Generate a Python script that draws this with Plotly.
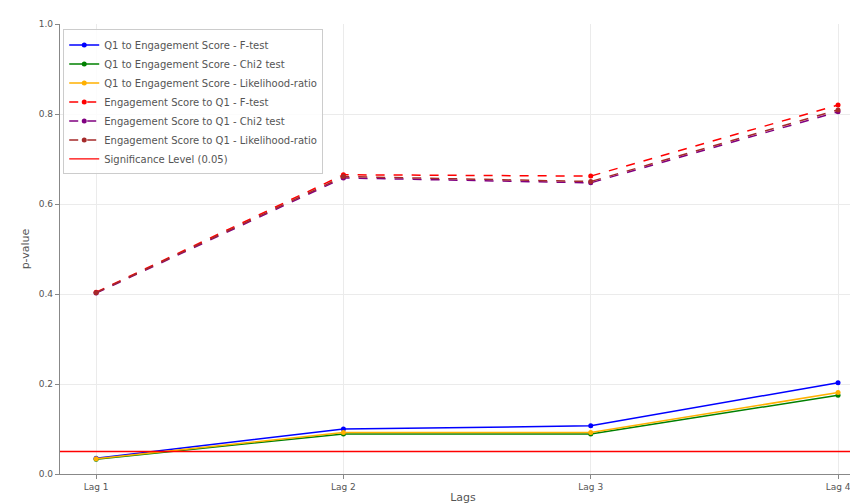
import plotly.graph_objects as go

lags = ["Lag 1", "Lag 2", "Lag 3", "Lag 4"]
q1_to_es_f = [0.035, 0.100, 0.107, 0.203]
q1_to_es_chi2 = [0.033, 0.089, 0.089, 0.175]
q1_to_es_lr = [0.034, 0.092, 0.092, 0.181]
es_to_q1_f = [0.404, 0.665, 0.662, 0.820]
es_to_q1_chi2 = [0.402, 0.658, 0.647, 0.805]
es_to_q1_lr = [0.403, 0.661, 0.650, 0.809]
significance = 0.05

series = [
    ("Q1 to Engagement Score - F-test", q1_to_es_f, "blue", "solid"),
    ("Q1 to Engagement Score - Chi2 test", q1_to_es_chi2, "green", "solid"),
    ("Q1 to Engagement Score - Likelihood-ratio", q1_to_es_lr, "#FFB000", "solid"),
    ("Engagement Score to Q1 - F-test", es_to_q1_f, "red", "dash"),
    ("Engagement Score to Q1 - Chi2 test", es_to_q1_chi2, "purple", "dash"),
    ("Engagement Score to Q1 - Likelihood-ratio", es_to_q1_lr, "brown", "dash"),
]

x_idx = list(range(len(lags)))
fig = go.Figure()
for name, vals, color, dash in series:
    fig.add_trace(go.Scatter(
        x=x_idx, y=vals, mode="lines+markers", name=name,
        line=dict(color=color, width=1.5, dash=dash),
        marker=dict(color=color, size=5),
    ))

fig.add_trace(go.Scatter(
    x=[-1, 5], y=[significance, significance], mode="lines",
    name="Significance Level (0.05)",
    line=dict(color="red", width=1.3),
))

axis_common = dict(
    showgrid=True, gridcolor="#ebebeb", gridwidth=1,
    showline=True, linecolor="#888888", linewidth=1.2,
    ticks="outside", tickcolor="#888888", ticklen=4,
    tickfont=dict(family="DejaVu Sans", size=9, color="#555555"),
    zeroline=False,
)

fig.update_layout(
    width=858, height=504,
    margin=dict(l=52, r=0, t=16, b=38),
    plot_bgcolor="white", paper_bgcolor="white",
    font=dict(family="DejaVu Sans", size=9, color="#555555"),
    xaxis=dict(
        range=[-0.146, 3.113],
        tickmode="array", tickvals=x_idx, ticktext=lags,
        title=dict(text="Lags", font=dict(size=11, color="#555555"), standoff=2),
        **axis_common,
    ),
    yaxis=dict(
        range=[0, 1],
        tickmode="array", tickvals=[0, 0.2, 0.4, 0.6, 0.8, 1.0],
        tickformat=".1f",
        title=dict(text="p-value", font=dict(size=11, color="#555555"), standoff=6),
        **axis_common,
    ),
    legend=dict(
        x=0.004, y=0.988, xanchor="left", yanchor="top",
        bgcolor="rgba(255,255,255,0.85)",
        bordercolor="#cccccc", borderwidth=1,
        font=dict(family="DejaVu Sans", size=10, color="#555555"),
        tracegroupgap=0, itemwidth=30,
    ),
    showlegend=True,
)

fig.write_html("out.html")
